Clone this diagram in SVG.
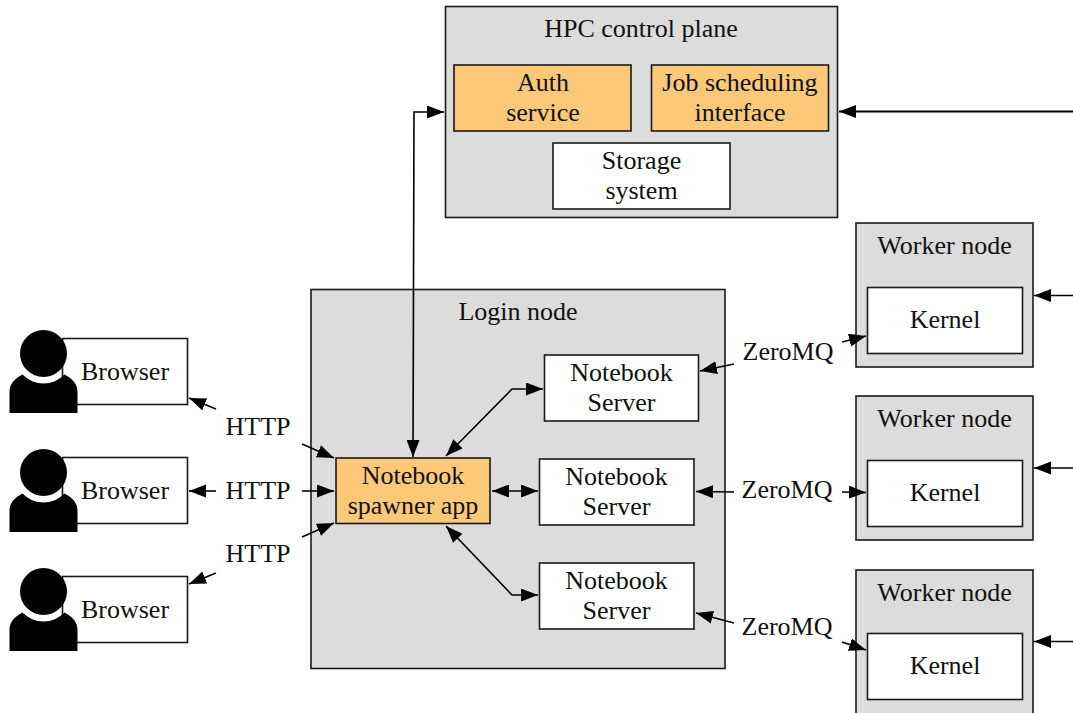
<svg xmlns="http://www.w3.org/2000/svg" width="1073" height="713" viewBox="0 0 1073 713">
<style>
text{font-family:"Liberation Serif","Times New Roman",serif;font-size:26px;fill:#111;text-anchor:middle}
.g{fill:#dcdcdc;stroke:#1a1a1a;stroke-width:1.6}
.w{fill:#fff;stroke:#1a1a1a;stroke-width:1.6}
.o{fill:#fec879;stroke:#1a1a1a;stroke-width:1.6}
.c{fill:none;stroke:#000;stroke-width:1.6;marker-end:url(#a)}
.b{marker-start:url(#s)}
</style>
<defs>
<marker id="a" markerUnits="userSpaceOnUse" markerWidth="18" markerHeight="14" refX="17" refY="6.500" orient="auto"><path d="M0 0L17 6.500L0 13z" fill="#000"/></marker>
<marker id="s" markerUnits="userSpaceOnUse" markerWidth="18" markerHeight="14" refX="0" refY="6.500" orient="auto"><path d="M17 0L0 6.500L17 13z" fill="#000"/></marker>
<g id="person"><circle cx="43.500" cy="353.500" r="23.500" fill="#000"/><path d="M9.500 413V392C9.500 384 14 379 22.500 374.500A29 29 0 0 0 64.500 374.500C73 379 77.500 384 77.500 392V413z" fill="#000"/></g>
</defs>
<g id="hpc"><rect class="g" x="445.500" y="6.500" width="392" height="211"/><text x="641" y="37">HPC control plane</text></g>
<g id="auth"><rect class="o" x="454" y="65" width="177" height="66"/><text x="543" y="91">Auth</text><text x="543" y="121">service</text></g>
<g id="job"><rect class="o" x="651.500" y="65" width="177" height="66"/><text x="740" y="91">Job scheduling</text><text x="740" y="121">interface</text></g>
<g id="storage"><rect class="w" x="553" y="143" width="177" height="66"/><text x="641.500" y="169">Storage</text><text x="641.500" y="199">system</text></g>
<g id="login"><rect class="g" x="311" y="289.500" width="414" height="379"/><text x="518" y="320">Login node</text></g>
<g id="worker1"><rect class="g" x="856" y="223" width="177" height="144"/><text x="944.500" y="254">Worker node</text></g>
<g id="kernel1"><rect class="w" x="867.500" y="287.500" width="155" height="66"/><text x="945" y="328">Kernel</text></g>
<g id="worker2"><rect class="g" x="856" y="396" width="177" height="144"/><text x="944.500" y="427">Worker node</text></g>
<g id="kernel2"><rect class="w" x="867.500" y="460.500" width="155" height="66"/><text x="945" y="501">Kernel</text></g>
<g id="worker3"><rect class="g" x="856" y="570" width="177" height="144"/><text x="944.500" y="601">Worker node</text></g>
<g id="kernel3"><rect class="w" x="867.500" y="633.500" width="155" height="66"/><text x="945" y="674">Kernel</text></g>
<g id="browser1"><rect class="w" x="62.500" y="338.500" width="125" height="66"/><use href="#person"/><text x="125" y="380">Browser</text></g>
<g id="browser2"><rect class="w" x="62.500" y="457.500" width="125" height="66"/><use href="#person" y="119"/><text x="125" y="499">Browser</text></g>
<g id="browser3"><rect class="w" x="62.500" y="576.500" width="125" height="66"/><use href="#person" y="238"/><text x="125" y="618">Browser</text></g>
<g id="spawner"><rect class="o" x="336" y="458" width="154" height="65.500"/><text x="413" y="484">Notebook</text><text x="413" y="514">spawner app</text></g>
<g id="server1"><rect class="w" x="544.500" y="355" width="154" height="66"/><text x="621.500" y="381">Notebook</text><text x="621.500" y="411">Server</text></g>
<g id="server2"><rect class="w" x="539.500" y="459" width="154.500" height="66"/><text x="616.500" y="485">Notebook</text><text x="616.500" y="515">Server</text></g>
<g id="server3"><rect class="w" x="539.500" y="563" width="154.500" height="66"/><text x="616.500" y="589">Notebook</text><text x="616.500" y="619">Server</text></g>
<g id="labels">
<text x="258" y="435">HTTP</text><text x="258" y="499">HTTP</text><text x="258" y="562">HTTP</text>
<text x="788" y="360">ZeroMQ</text><text x="787" y="498">ZeroMQ</text><text x="787" y="635">ZeroMQ</text>
</g>
<g id="connectors">
<path class="c" d="M216 409L189 398"/><path class="c" d="M302 444L334 458"/>
<path class="c" d="M216 491H189"/><path class="c" d="M302 491H334"/>
<path class="c" d="M216 573L189 584"/><path class="c" d="M302 537L334 523"/>
<path class="c b" d="M413 457L414 112H444"/>
<path class="c" d="M1073 111.500H839" style="stroke-width:2"/>
<path class="c" d="M1073 295.500H1034"/><path class="c" d="M1073 468H1034"/><path class="c" d="M1073 641.500H1034"/>
<path class="c b" d="M446 456L512 389H543"/>
<path class="c b" d="M492 491H538"/>
<path class="c b" d="M446 526L512 595H538"/>
<path class="c" d="M734 364L700 371"/><path class="c" d="M842 342L866 336"/>
<path class="c" d="M734 492L696 491.500"/><path class="c" d="M842 492L866 492.500"/>
<path class="c" d="M734 623L696 613"/><path class="c" d="M842 642L866 650"/>
</g>
</svg>
